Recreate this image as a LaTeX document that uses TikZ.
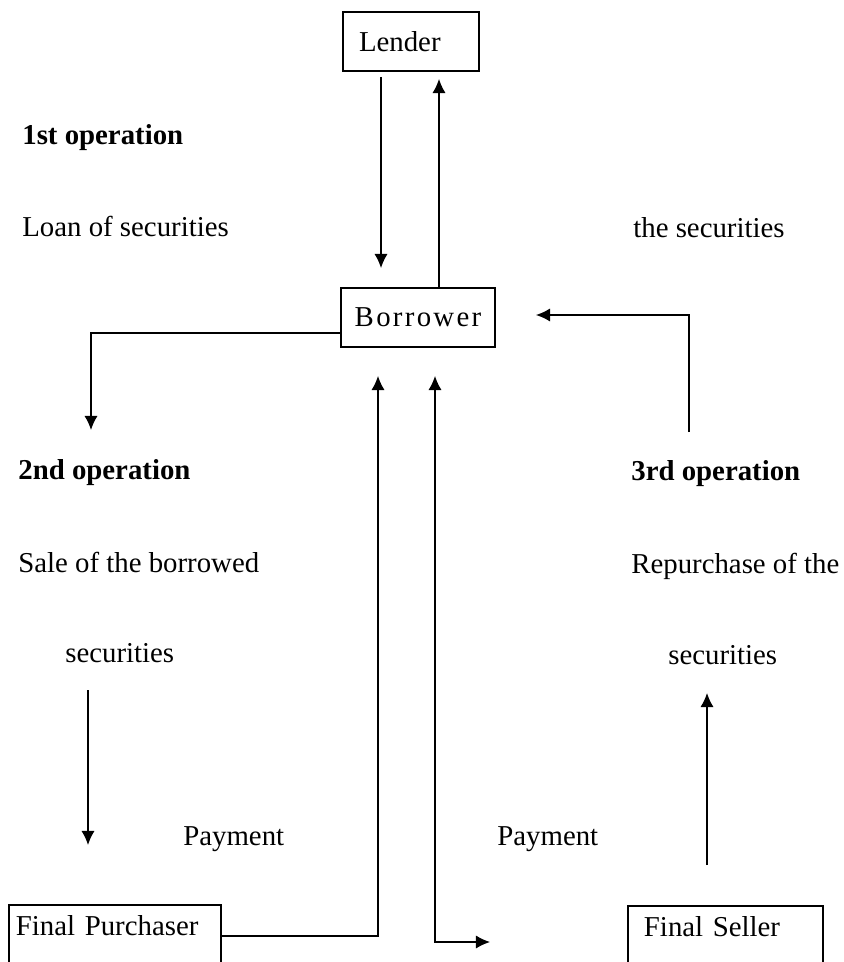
\documentclass[tikz,border=0pt]{standalone}
\usepackage{fontspec}
\setmainfont{Liberation Serif}
\usetikzlibrary{arrows.meta,calc}
\begin{document}
\begin{tikzpicture}[x=0.02cm, y=-0.02cm, >={Latex[length=8pt,width=7.5pt]},
    every node/.style={font=\fontsize{16.4}{19}\selectfont},
    box/.style={draw, line width=1.1pt, inner sep=0pt},
    caption/.style={anchor=base west, inner sep=0pt},
    flow/.style={line width=0.8pt, ->}]
    % Page frame
    \useasboundingbox (0,0) rectangle (843,962);
    \clip (0,0) rectangle (843,962);

    % Draw the boxes
    \node[box, minimum width=2.72cm, minimum height=1.18cm, text width=2.08cm, align=left] (lender) at (411,41.5) {Lender};
    \node[box, minimum width=3.08cm, minimum height=1.18cm] (borrower) at (418,317.5) {\addfontfeature{LetterSpace=8}Borrower};
    \node[box, anchor=north west, minimum width=4.24cm, text width=3.96cm, align=left,
          text height=0.62cm, text depth=1.6cm] (purchaser) at (8,904) {Final Purchaser};
    \node[box, anchor=north west, minimum width=3.9cm, text width=3.26cm, align=left,
          text height=0.62cm, text depth=1.6cm] (seller) at (627,905) {Final Seller};

    % Add the texts
    \node[caption] (op1) at (22,145) {\bfseries 1st operation};
    \node[caption] (loantext) at (22,237) {Loan of securities};
    \node[caption] (thesec) at (633,238) {the securities};
    \node[caption] (op2) at (18,479) {\bfseries 2nd operation};
    \node[caption] (op3) at (631,480) {\bfseries 3rd operation};
    \node[caption] (saletext) at (18,572) {Sale of the borrowed};
    \node[caption] (buytext) at (631,573) {Repurchase of the};
    \node[caption] (secl) at (65,662) {securities};
    \node[caption] (secr) at (668,664) {securities};
    \node[caption] (payl) at (183,845) {Payment};
    \node[caption] (payr) at (497,845) {Payment};

    % Loan and return of the securities
    \draw[flow, shorten <=0.1cm, shorten >=0.38cm] (381,0 |- lender.south) -- (381,0 |- borrower.north);
    \draw[flow, shorten >=0.14cm] (439,0 |- borrower.north) -- (439,0 |- lender.south);

    % Sale and repurchase
    \coordinate (sale end) at (91,430);
    \draw[flow] ($(borrower.west)+(0,15.5)$) -| (sale end);
    \coordinate (buy start) at (689,432);
    \draw[flow] (buy start) |- ($(borrower.east)+(40,-2.5)$);

    % Payments
    \draw[flow] ($(purchaser.north east)+(0,32)$) -| ($(378,0 |- borrower.south)+(0,28)$);
    \coordinate (pay end) at (490,942);
    \draw[flow, <->] ($(435,0 |- borrower.south)+(0,28)$) |- (pay end);

    % Arrows beside the operations
    \coordinate (sale top) at (88,690);
    \coordinate (sale tip) at (88,845);
    \draw[flow] (sale top) -- (sale tip);
    \coordinate (buy tip) at (707,693);
    \draw[flow, shorten <=0.8cm] (707,0 |- seller.north) -- (buy tip);
\end{tikzpicture}
\end{document}
